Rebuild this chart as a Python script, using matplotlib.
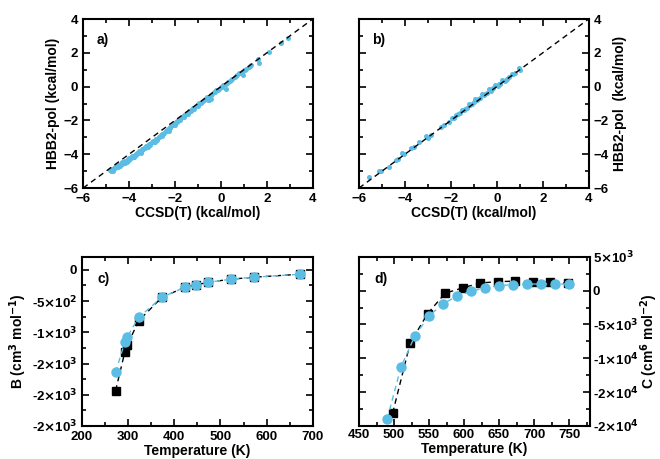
import matplotlib
matplotlib.use("Agg")
import matplotlib.pyplot as plt
from matplotlib.ticker import MultipleLocator, FixedLocator, FixedFormatter

plt.rcParams['font.family'] = ['Liberation Sans', 'DejaVu Sans']
plt.rcParams['font.weight'] = 'bold'
plt.rcParams['mathtext.default'] = 'bf'

BLUE = '#5bbde4'

# Panel a: CCSD(T) vs HBB2-pol (kcal/mol)
a_x = [-4.84, -4.80, -4.75, -4.70, -4.65, -4.60, -4.55, -4.50, -4.45, -4.40, -4.35, -4.30,
       -4.25, -4.20, -4.15, -4.10, -4.05, -4.00, -3.95, -3.90, -3.85, -3.80, -3.75, -3.70,
       -3.65, -3.60, -3.55, -3.50, -3.45, -3.40, -3.35, -3.30, -3.25, -3.20, -3.15, -3.10,
       -3.00, -2.95, -2.90, -2.85, -2.80, -2.70, -2.60, -2.55, -2.50, -2.40, -2.30, -2.20,
       -2.10, -2.00, -1.95, -1.90, -1.80, -1.70, -1.60, -1.50, -1.45, -1.40, -1.30, -1.20,
       -1.10, -1.00, -0.95, -0.90, -0.80, -0.70, -0.60, -0.55, -0.50, -0.45, -0.45, -0.40,
       -0.30, -0.20, -0.10, 0.00, 0.10, 0.20, 0.20, 0.30, 0.40, 0.50, 0.60, 0.70, 0.80,
       0.90, 0.95, 1.00, 1.10, 1.20, 1.30, 1.60, 1.65, 2.10, 2.62, 2.92,
       -4.78, -4.62, -4.48, -4.32, -4.18, -4.02, -3.88, -3.72, -3.58, -3.42, -3.28, -3.12,
       -2.98, -2.82, -2.68, -2.52, -2.38, -2.22, -2.08, -1.92, -1.78, -1.62, -1.48, -1.32,
       -1.18, -1.02, -0.88, -0.72, -0.58, -0.42, -0.28, -0.12, 0.05, 0.25, 0.45, 0.65, 0.85,
       1.05, 1.25, -4.72, -4.38, -4.08, -3.78, -3.48, -3.18, -2.88, -2.58, -2.28, -1.98]
a_y = [-4.95, -4.98, -4.90, -4.86, -4.80, -4.82, -4.72, -4.76, -4.66, -4.64, -4.58, -4.60,
       -4.50, -4.52, -4.42, -4.40, -4.30, -4.34, -4.22, -4.25, -4.12, -4.15, -4.05, -4.02,
       -3.95, -3.92, -3.82, -3.86, -3.74, -3.72, -3.62, -3.66, -3.54, -3.50, -3.40, -3.46,
       -3.30, -3.24, -3.20, -3.12, -3.14, -2.98, -2.86, -2.80, -2.76, -2.62, -2.50, -2.38,
       -2.26, -2.16, -2.12, -2.04, -1.92, -1.80, -1.68, -1.58, -1.64, -1.46, -1.36, -1.24,
       -1.14, -1.04, -0.96, -0.98, -0.84, -0.72, -0.64, -0.78, -0.80, -0.50, -0.75, -0.42,
       -0.32, -0.22, -0.14, -0.04, 0.08, -0.12, 0.16, 0.26, 0.36, 0.46, 0.56, 0.66, 0.78,
       0.86, 0.70, 0.96, 1.06, 1.16, 1.26, 1.62, 1.40, 2.04, 2.56, 2.90,
       -4.88, -4.74, -4.62, -4.48, -4.38, -4.24, -4.12, -3.98, -3.86, -3.72, -3.58, -3.44,
       -3.28, -3.12, -2.96, -2.78, -2.62, -2.44, -2.30, -2.12, -1.96, -1.80, -1.62, -1.46,
       -1.30, -1.12, -0.96, -0.80, -0.64, -0.48, -0.34, -0.18, 0.00, 0.20, 0.40, 0.60, 0.80,
       1.00, 1.20, -4.98, -4.70, -4.45, -4.18, -3.90, -3.60, -3.28, -2.95, -2.60, -2.26]

# Panel b
b_x = [-5.57, -5.13, -5.05, -4.70, -4.41, -4.30, -4.12, -4.05, -3.75, -3.60, -3.39, -3.10,
       -3.00, -2.88, -2.45, -2.30, -2.10, -1.94, -1.85, -1.80, -1.70, -1.60, -1.51, -1.40,
       -1.30, -1.22, -1.10, -1.00, -0.93, -0.85, -0.75, -0.64, -0.55, -0.45, -0.35, -0.25,
       -0.15, -0.06, 0.05, 0.15, 0.23, 0.35, 0.45, 0.55, 0.67, 0.80, 0.96, 1.00,
       -1.45, -1.15, -0.80, -0.50, -0.20, 0.10, 0.40, 0.70]
b_y = [-5.37, -5.02, -4.98, -4.73, -4.33, -4.28, -3.94, -4.00, -3.65, -3.58, -3.25, -2.90,
       -3.02, -2.86, -2.37, -2.26, -2.08, -1.88, -1.86, -1.69, -1.62, -1.55, -1.39, -1.32,
       -1.25, -1.00, -1.02, -0.93, -0.71, -0.80, -0.68, -0.41, -0.52, -0.40, -0.16, -0.24,
       -0.10, 0.08, 0.02, 0.18, 0.37, 0.32, 0.46, 0.56, 0.76, 0.78, 1.10, 0.98,
       -1.38, -1.10, -0.74, -0.46, -0.15, 0.14, 0.42, 0.72]

# Panel c: second virial coefficient B (cm^3/mol)
c_T_ref = [273, 293, 298, 323, 373, 423, 448, 473, 523, 573, 673]
c_B_ref = [-1935, -1317, -1210, -817, -441, -280, -242, -199, -150, -118, -70]
c_T_mod = [273, 293, 298, 323, 373, 423, 448, 473, 523, 573, 673]
c_B_mod = [-1640, -1156, -1075, -763, -441, -280, -242, -199, -150, -118, -70]
c_yticks = [-2500, -2000, -1500, -1000, -500, 0]
c_ylabels = ['-2$\\times$10$^3$', '-2$\\times$10$^3$', '-2$\\times$10$^3$',
             '-1$\\times$10$^3$', '-5$\\times$10$^2$', '0']

# Panel d: third virial coefficient C (cm^6/mol^2)
d_T_ref = [498, 523, 548, 573, 598, 623, 648, 673, 698, 723, 748]
d_C_ref = [-18100, -7770, -3400, -390, 390, 1120, 1310, 1400, 1310, 1210, 1070]
d_T_mod = [490, 510, 530, 550, 570, 590, 610, 630, 650, 670, 690, 710, 730, 750]
d_C_mod = [-19030, -11260, -6650, -3740, -1940, -825, -100, 390, 730, 870, 970, 970, 970, 970]
d_yticks = [-20000, -15000, -10000, -5000, 0, 5000]
d_ylabels = ['-2$\\times$10$^4$', '-2$\\times$10$^4$', '-1$\\times$10$^4$',
             '-5$\\times$10$^3$', '0', '5$\\times$10$^3$']

FS = 9.5

fig = plt.figure(figsize=(6.6, 4.59), dpi=100)
ax_a = fig.add_axes([0.126, 0.5904, 0.348, 0.3682])
ax_b = fig.add_axes([0.544, 0.5904, 0.348, 0.3682])
ax_c = fig.add_axes([0.124, 0.0719, 0.350, 0.3688])
ax_d = fig.add_axes([0.544, 0.0719, 0.350, 0.3688])


def style(ax):
    for s in ax.spines.values():
        s.set_linewidth(1.5)
    ax.tick_params(which='both', direction='in', top=True, right=True, width=1.2,
                   labelsize=FS)
    ax.tick_params(which='major', length=5)
    ax.tick_params(which='minor', length=3)
    for lab in ax.get_xticklabels() + ax.get_yticklabels():
        lab.set_fontweight('bold')


for ax, xs, ys, lab in [(ax_a, a_x, a_y, 'a)'), (ax_b, b_x, b_y, 'b)')]:
    ax.plot([-6, 4], [-6, 4], ls=(0, (4, 3)), color='black', lw=1.0, zorder=3)
    ax.scatter(xs, ys, s=13, color=BLUE, zorder=2, linewidths=0)
    ax.set_xlim(-6, 4)
    ax.set_ylim(-6, 4)
    ax.xaxis.set_major_locator(MultipleLocator(2))
    ax.xaxis.set_minor_locator(MultipleLocator(1))
    ax.yaxis.set_major_locator(MultipleLocator(2))
    ax.yaxis.set_minor_locator(MultipleLocator(1))
    ax.set_xlabel('CCSD(T) (kcal/mol)', fontsize=FS + 0.5, fontweight='bold', labelpad=1)
    ax.text(0.085, 0.875, lab, transform=ax.transAxes, fontsize=FS + 0.5,
            fontweight='bold', ha='center', va='center')
    style(ax)

ax_a.set_ylabel('HBB2-pol (kcal/mol)', fontsize=FS + 0.5, fontweight='bold', labelpad=2)
ax_b.yaxis.set_label_position('right')
ax_b.yaxis.tick_right()
ax_b.tick_params(which='both', left=True, right=True, labelleft=False, labelright=True)
ax_b.set_ylabel('HBB2-pol  (kcal/mol)', fontsize=FS + 0.5, fontweight='bold',
                rotation=90, labelpad=3)

# Panel c
ax_c.plot(c_T_ref, c_B_ref, ls=(0, (4, 3)), color='black', lw=1.0, marker='s',
          ms=6, mfc='black', mec='black', zorder=2)
ax_c.plot(c_T_mod, c_B_mod, ls=(0, (4, 3)), color=BLUE, lw=1.0, marker='o',
          ms=6.5, mfc=BLUE, mec=BLUE, zorder=3)
ax_c.set_xlim(200, 700)
ax_c.set_ylim(-2500, 210)
ax_c.xaxis.set_major_locator(MultipleLocator(100))
ax_c.xaxis.set_minor_locator(MultipleLocator(50))
ax_c.yaxis.set_major_locator(FixedLocator(c_yticks))
ax_c.yaxis.set_major_formatter(FixedFormatter(c_ylabels))
ax_c.yaxis.set_minor_locator(MultipleLocator(250))
ax_c.set_xlabel('Temperature (K)', fontsize=FS + 0.5, fontweight='bold', labelpad=1)
ax_c.set_ylabel('B (cm$^3$ mol$^{-1}$)', fontsize=FS + 0.5, fontweight='bold', labelpad=2)
ax_c.text(0.094, 0.87, 'c)', transform=ax_c.transAxes, fontsize=FS + 0.5,
          fontweight='bold', ha='center', va='center')
style(ax_c)

# Panel d
ax_d.plot(d_T_ref, d_C_ref, ls=(0, (4, 3)), color='black', lw=1.0, marker='s',
          ms=6, mfc='black', mec='black', zorder=2)
ax_d.plot(d_T_mod, d_C_mod, ls=(0, (4, 3)), color=BLUE, lw=1.0, marker='o',
          ms=6.5, mfc=BLUE, mec=BLUE, zorder=3)
ax_d.set_xlim(450, 780)
ax_d.set_ylim(-20000, 5000)
ax_d.xaxis.set_major_locator(MultipleLocator(50))
ax_d.xaxis.set_minor_locator(MultipleLocator(25))
ax_d.yaxis.set_major_locator(FixedLocator(d_yticks))
ax_d.yaxis.set_major_formatter(FixedFormatter(d_ylabels))
ax_d.yaxis.set_minor_locator(MultipleLocator(2500))
ax_d.set_xlabel('Temperature (K)', fontsize=FS + 0.5, fontweight='bold', labelpad=1)
ax_d.yaxis.set_label_position('right')
ax_d.set_ylabel('C (cm$^6$ mol$^{-2}$)', fontsize=FS + 0.5, fontweight='bold',
                rotation=90, labelpad=0)
ax_d.text(0.094, 0.87, 'd)', transform=ax_d.transAxes, fontsize=FS + 0.5,
          fontweight='bold', ha='center', va='center')
style(ax_d)
ax_d.tick_params(which='both', labelleft=False, labelright=True, pad=2)

fig.savefig('out.png', dpi=100)
